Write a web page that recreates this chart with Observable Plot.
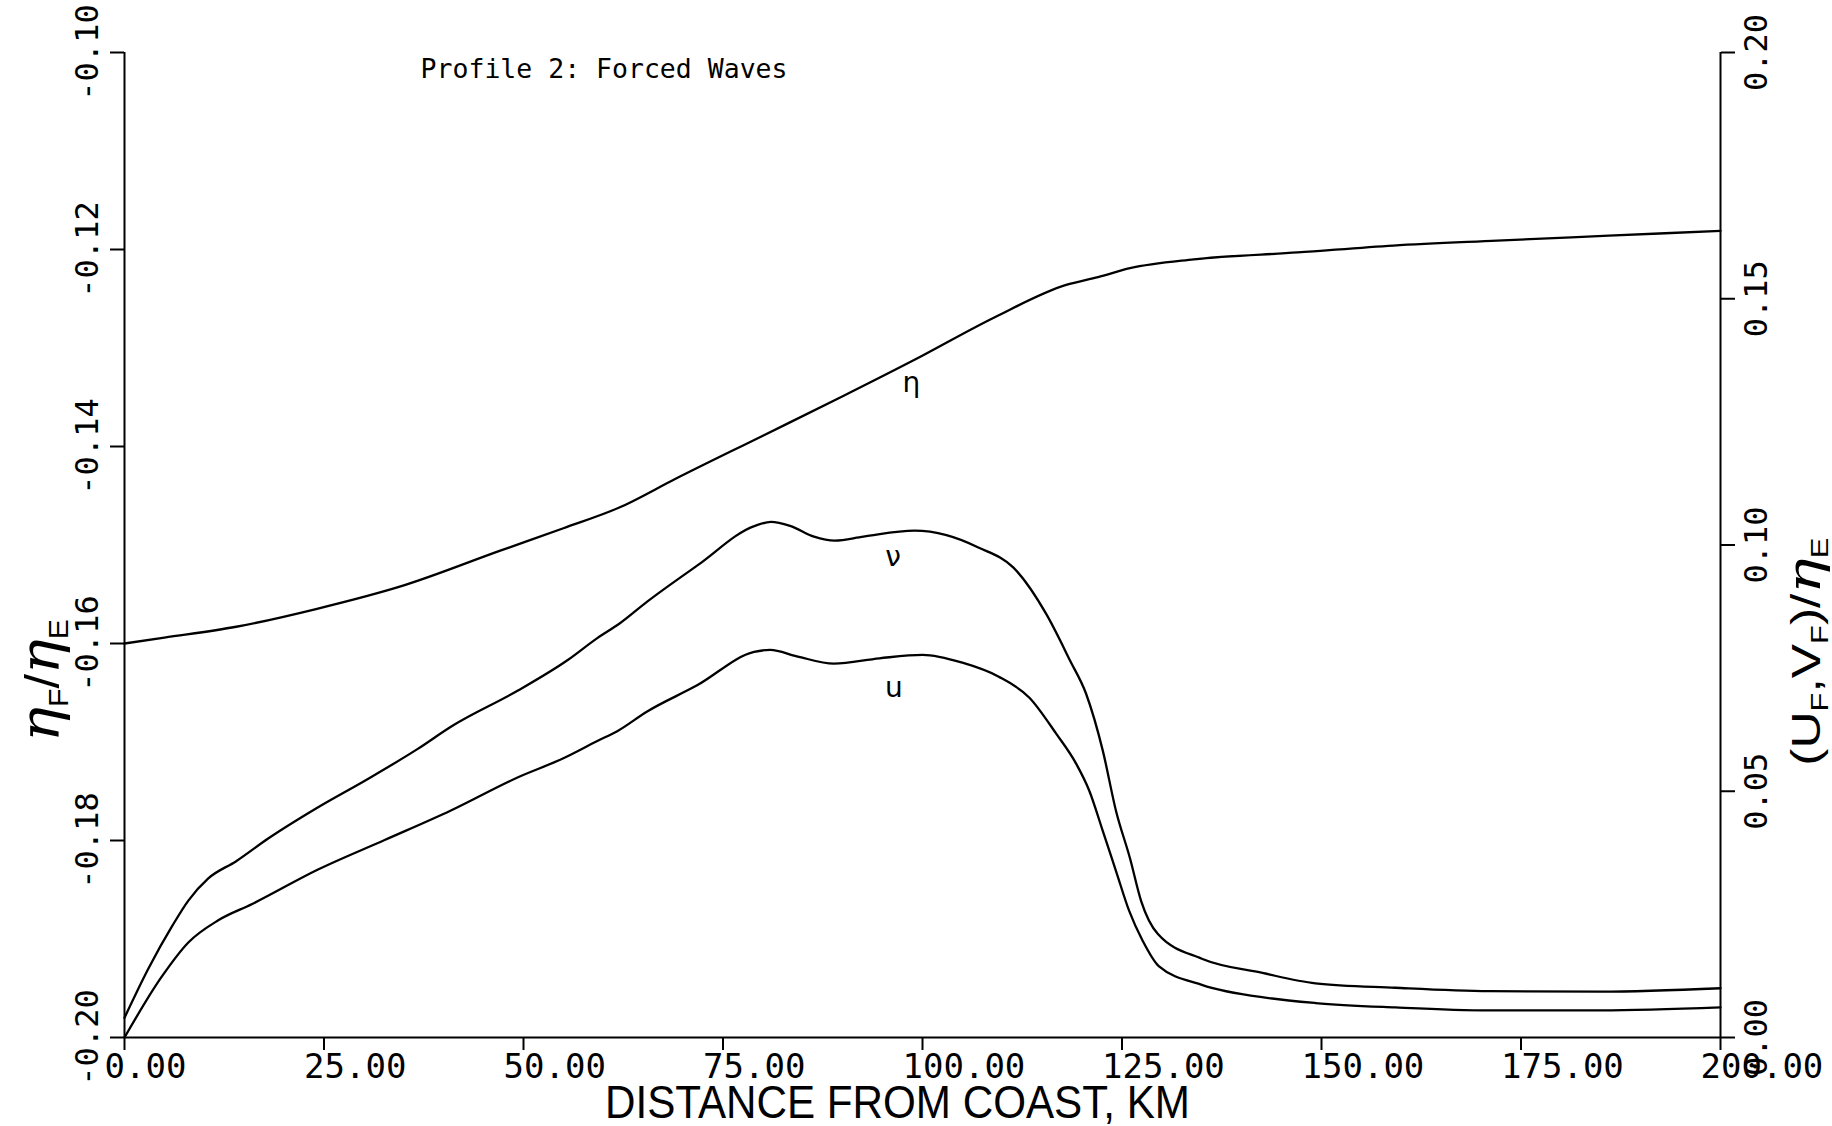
<!DOCTYPE html>
<html>
<head>
<meta charset="utf-8">
<script src="https://cdn.jsdelivr.net/npm/d3@7"></script>
<script src="https://cdn.jsdelivr.net/npm/@observablehq/plot@0.6"></script>
<style>
  html, body { margin: 0; padding: 0; background: #fff; }
  #chart svg { display: block; }
</style>
</head>
<body>
<div id="chart"></div>
<script>
// ---- data ----
// distance from coast (km) and eta_F/eta_E (left axis)
const etaX = [0, 5, 14, 24, 35, 47, 55, 62, 69, 80, 90, 99, 109, 118, 122, 126, 134, 147, 159, 172, 186, 200];
const etaY = [-0.1600, -0.1594, -0.1583, -0.1565, -0.1541, -0.1506, -0.1483, -0.1462, -0.1433, -0.1389, -0.1349, -0.1312, -0.1269, -0.1236, -0.1228, -0.1219, -0.1210, -0.1203, -0.1196, -0.1191, -0.1186, -0.1181];

// V_F/eta_E (right axis)
const vX = [0, 3, 6, 8, 10.5, 14, 18, 24, 30.5, 36.75, 41, 49.25, 55.5, 59.25, 62, 65.5, 71.75, 79, 81, 83.4, 86.4, 89, 92.6, 99, 103, 107, 111.4, 115.5, 118.5, 120.5, 122.6, 124.25, 126, 127.4, 129.5, 135, 142.6, 149.25, 159.25, 171, 185, 200];
const vY = [0.0040, 0.0140, 0.0227, 0.0278, 0.0323, 0.0358, 0.0404, 0.0465, 0.0525, 0.0586, 0.0632, 0.0704, 0.0766, 0.0811, 0.0840, 0.0885, 0.0958, 0.1039, 0.1047, 0.1039, 0.1017, 0.1009, 0.1017, 0.1029, 0.1020, 0.0995, 0.0954, 0.0860, 0.0765, 0.0698, 0.0582, 0.0460, 0.0364, 0.0277, 0.0210, 0.0160, 0.0131, 0.0110, 0.0101, 0.0094, 0.0093, 0.0100];

// U_F/eta_E (right axis)
const uX = [0, 4.6, 8, 11.75, 16, 24.25, 32.6, 40.9, 49.25, 55, 59.25, 61.75, 65.5, 71.75, 78.9, 80.9, 84.25, 88.9, 94.6, 100, 105, 109.5, 113.4, 116.75, 119.25, 120.9, 122.6, 124.25, 125.9, 127.6, 129.6, 135, 143.4, 149.25, 159.25, 171, 185, 200];
const uY = [0, 0.0122, 0.0193, 0.0238, 0.0271, 0.0341, 0.0401, 0.0461, 0.0528, 0.0567, 0.0602, 0.0622, 0.0662, 0.0715, 0.0783, 0.0787, 0.0774, 0.0759, 0.0770, 0.0777, 0.0761, 0.0733, 0.0690, 0.0617, 0.0556, 0.0501, 0.0419, 0.0338, 0.0257, 0.0196, 0.0145, 0.0107, 0.0080, 0.0070, 0.0061, 0.0055, 0.0055, 0.0061];

// ticks
const xTicks = [0, 25, 50, 75, 100, 125, 150, 175, 200];
const leftTicks = [-0.20, -0.18, -0.16, -0.14, -0.12, -0.10];
const rightTicks = [0.00, 0.05, 0.10, 0.15, 0.20];

// texts
const titleText = "Profile 2: Forced Waves";
const xLabel = "DISTANCE FROM COAST, KM";
const leftTitle = "ηF/ηE";
const rightTitle = "(UF,VF)/ηE";
const curveNames = ["η", "ν", "u"];

// annotation anchors (data units)
const titleAt = {x: 37.1, y: -0.1026};
const etaLabelAt = {x: 98.6, y: -0.1336};      // left-axis units
const vLabelAt = {x: 96.3, y: 0.0975};         // right-axis units
const uLabelAt = {x: 96.4, y: 0.0710};         // right-axis units
const leftTitleStart = -0.1700;               // left-axis units (text runs upward)
const rightTitleStart = 0.0552;               // right-axis units (text runs upward)

// right axis (0 .. 0.20) shares the frame with left axis (-0.20 .. -0.10)
const toLeft = r => -0.20 + r * 0.5;

const eta = etaX.map((x, i) => ({x, y: etaY[i]}));
const vData = vX.map((x, i) => ({x, y: vY[i]}));
const uData = uX.map((x, i) => ({x, y: uY[i]}));
const labels = [
  {t: curveNames[0], x: etaLabelAt.x, y: etaLabelAt.y},
  {t: curveNames[1], x: vLabelAt.x, y: toLeft(vLabelAt.y)},
  {t: curveNames[2], x: uLabelAt.x, y: toLeft(uLabelAt.y)}
];

const mono = "DejaVu Sans Mono, Liberation Mono, monospace";
const sans = "Liberation Sans, Arial, sans-serif";

const plot = Plot.plot({
  width: 1832,
  height: 1126,
  marginLeft: 124,
  marginRight: 112,
  marginTop: 52,
  marginBottom: 89,
  style: {fontFamily: mono, color: "#000", background: "#fff", overflow: "visible"},
  x: {domain: [0, 200]},
  y: {domain: [-0.20, -0.10]},
  marks: [
    // axis lines
    Plot.ruleX([0, 200], {stroke: "#000", strokeWidth: 2}),
    Plot.ruleY([-0.20], {stroke: "#000", strokeWidth: 2}),
    // tick marks
    Plot.axisX({ticks: xTicks, tickSize: 13, tickFormat: () => "", label: null, strokeWidth: 2}),
    Plot.axisY({anchor: "left", ticks: leftTicks, tickSize: 14, tickFormat: () => "", label: null, strokeWidth: 2}),
    Plot.axisY({anchor: "right", ticks: rightTicks.map(toLeft), tickSize: 14, tickFormat: () => "", label: null, strokeWidth: 2}),
    // tick labels
    Plot.text(xTicks, {x: d => d, frameAnchor: "bottom", dy: 16, dx: -20, textAnchor: "start", lineAnchor: "top",
      text: d => d.toFixed(2), fontSize: 34, fontFamily: mono, fill: "#000"}),
    Plot.text(leftTicks, {y: d => d, frameAnchor: "left", dx: -27, rotate: -90, textAnchor: "middle", lineAnchor: "bottom",
      text: d => d.toFixed(2), fontSize: 32, fontFamily: mono, fill: "#000"}),
    Plot.text(rightTicks, {y: d => toLeft(d), frameAnchor: "right", dx: 24, rotate: -90, textAnchor: "middle", lineAnchor: "top",
      text: d => d.toFixed(2), fontSize: 32, fontFamily: mono, fill: "#000"}),
    // curves
    Plot.line(eta, {x: "x", y: "y", stroke: "#000", strokeWidth: 2.3, curve: "monotone-x"}),
    Plot.line(vData, {x: "x", y: d => toLeft(d.y), stroke: "#000", strokeWidth: 2.3, curve: "monotone-x"}),
    Plot.line(uData, {x: "x", y: d => toLeft(d.y), stroke: "#000", strokeWidth: 2.3, curve: "monotone-x"}),
    // curve labels
    Plot.text(labels, {x: "x", y: "y", text: "t", fontSize: 28, fontFamily: "DejaVu Sans, sans-serif", fill: "#000",
      textAnchor: "middle", lineAnchor: "middle"}),
    // title inside the plot
    Plot.text([titleText], {x: () => titleAt.x, y: () => titleAt.y, text: d => d, textAnchor: "start", lineAnchor: "bottom",
      fontSize: 26.5, fontFamily: mono, fill: "#000"}),
    // axis titles
    Plot.text([xLabel], {frameAnchor: "bottom", dx: -25, dy: 80, text: d => d, textAnchor: "middle", lineAnchor: "bottom",
      fontSize: 46, fontFamily: sans, fill: "#000"}),
    Plot.text([leftTitle], {frameAnchor: "left", y: () => leftTitleStart, dx: -78, rotate: -90, text: d => d,
      textAnchor: "start", lineAnchor: "middle", fontSize: 40, fontFamily: sans, fill: "#000"}),
    Plot.text([rightTitle], {frameAnchor: "right", y: () => toLeft(rightTitleStart), dx: 87, rotate: -90, text: d => d,
      textAnchor: "start", lineAnchor: "middle", fontSize: 38, fontFamily: sans, fill: "#000"})
  ]
});

document.getElementById("chart").appendChild(plot);

// rich text (subscripts) for axis titles, and condensed x label
const NS = "http://www.w3.org/2000/svg";
function richify(node, parts, length) {
  node.textContent = "";
  let shift = 0;
  for (const p of parts) {
    const ts = document.createElementNS(NS, "tspan");
    ts.textContent = p.t;
    if (p.size) ts.setAttribute("font-size", p.size);
    if (p.family) ts.setAttribute("font-family", p.family);
    if (p.italic) ts.setAttribute("font-style", "italic");
    const target = p.sub ? p.sub : 0;
    if (target !== shift) { ts.setAttribute("dy", target - shift); shift = target; }
    node.appendChild(ts);
  }
  if (length) {
    node.setAttribute("textLength", length);
    node.setAttribute("lengthAdjust", "spacingAndGlyphs");
  }
}
const serif = "DejaVu Serif, Liberation Serif, serif";
d3.select(plot).selectAll("text").each(function () {
  const s = this.textContent;
  if (s === leftTitle) {
    richify(this, [
      {t: "η", size: 54, family: serif, italic: true},
      {t: "F", size: 28, family: sans, sub: 9},
      {t: "/", size: 48, family: sans},
      {t: "η", size: 54, family: serif, italic: true},
      {t: "E", size: 28, family: sans, sub: 9}
    ], 123);
  } else if (s === rightTitle) {
    richify(this, [
      {t: "(U", size: 40, family: sans},
      {t: "F", size: 24, family: sans, sub: 8},
      {t: ",V", size: 40, family: sans},
      {t: "F", size: 24, family: sans, sub: 8},
      {t: ")/", size: 40, family: sans},
      {t: "η", size: 46, family: serif, italic: true},
      {t: "E", size: 24, family: sans, sub: 8}
    ], 228);
  } else if (s === xLabel) {
    this.setAttribute("textLength", 585);
    this.setAttribute("lengthAdjust", "spacingAndGlyphs");
  }
});
</script>
</body>
</html>
